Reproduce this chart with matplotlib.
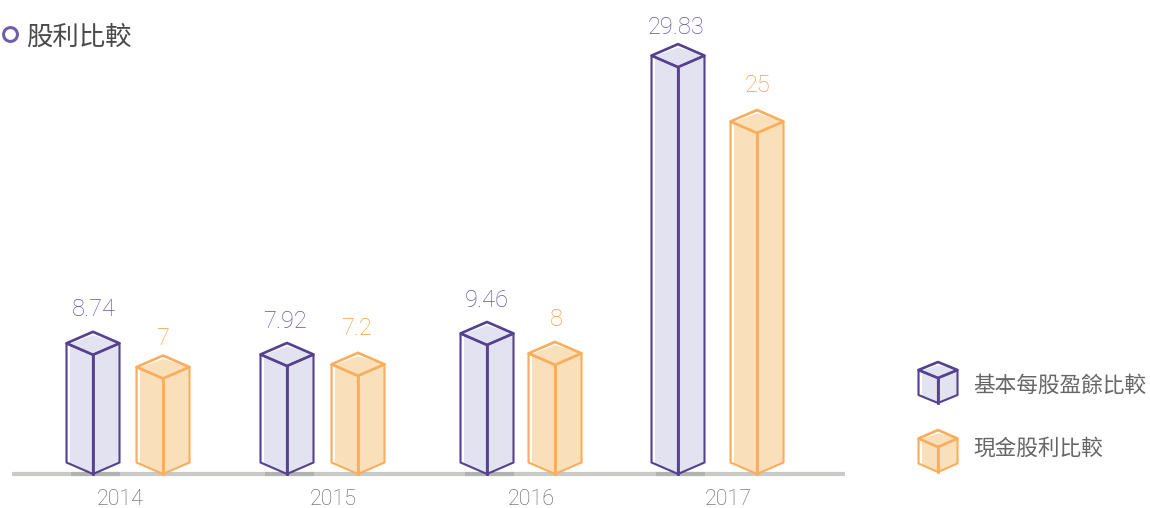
import matplotlib
matplotlib.use('Agg')
import matplotlib.pyplot as plt
from matplotlib.patches import Polygon

plt.rcParams['font.family'] = ['Roboto', 'Noto Sans CJK TC', 'DejaVu Sans']

years = ['2014', '2015', '2016', '2017']
eps = [8.74, 7.92, 9.46, 29.83]
dividend = [7, 7.2, 8, 25]
eps_labels = ['8.74', '7.92', '9.46', '29.83']
dividend_labels = ['7', '7.2', '8', '25']

title = '股利比較'
legend_names = ['基本每股盈餘比較', '現金股利比較']

# layout, in pixels of the 1150x508 picture
W, H = 1150, 508
BASE = 474
PX_PER_UNIT = 13.64
year_x = [120, 333, 531, 728]
eps_x = [93, 287, 487, 678]
div_x = [163, 358, 555, 757]
eps_label_gap = [22, 21, 21, 17]
div_label_gap = [17, 24, 22, 25]
eps_label_dx = [1, -2, 0, -2]
div_label_dx = [0, -1, 1, 0]

PURPLE = ('#54418f', '#e3e2f0', '#6654a3')
ORANGE = ('#f9ae5d', '#fae0ba', '#f59c3c')


def v(px):
    # pixels to data units on the y axis
    return px / PX_PER_UNIT


def cube(ax, cx, top, bottom, hw, depth, colors, zorder=3):
    # top and bottom are y values of the front edge
    edge, fill, _ = colors
    d = v(depth)
    left = [(cx - hw, top + d), (cx, top), (cx, bottom), (cx - hw, bottom + d)]
    right = [(cx, top), (cx + hw, top + d), (cx + hw, bottom + d), (cx, bottom)]
    lid = [(cx - hw, top + d), (cx, top + 2 * d), (cx + hw, top + d), (cx, top)]
    for pts in (left, right, lid):
        ax.add_patch(Polygon(pts, closed=True, facecolor=fill, edgecolor='none',
                             zorder=zorder, clip_on=False))
    # white highlights on the left face and under the back of the lid
    ax.add_patch(Polygon([(cx - hw + 1, top + d), (cx - hw + 3.5, top + d - v(1)),
                          (cx - hw + 3.5, bottom + d - v(1)), (cx - hw + 1, bottom + d)],
                         closed=True, facecolor='white', edgecolor='none',
                         zorder=zorder, clip_on=False))
    ax.plot([cx - hw + 5, cx, cx + hw - 10],
            [top + d + v(1), top + 2 * d - v(2.5), top + d + v(4)],
            color='white', lw=1.2, zorder=zorder, clip_on=False)
    # outer edges are thinner than the lid and the front edge
    for pts in (left, right):
        ax.add_patch(Polygon(pts, closed=True, facecolor='none', edgecolor=edge,
                             lw=1.5, joinstyle='round', zorder=zorder + 1, clip_on=False))
    ax.add_patch(Polygon(lid, closed=True, facecolor='none', edgecolor=edge,
                         lw=1.9, joinstyle='round', zorder=zorder + 1, clip_on=False))
    ax.plot([cx, cx], [top, bottom], color=edge, lw=2, zorder=zorder + 1, clip_on=False)


fig = plt.figure(figsize=(W / 100, H / 100), dpi=100)
ax = fig.add_axes([0, (H - BASE) / H, 1, BASE / H])
ax.set_xlim(0, W)
ax.set_ylim(0, v(BASE))
for s in ax.spines.values():
    s.set_visible(False)
ax.set_yticks([])
ax.set_xticks(year_x)
ax.set_xticklabels(years, fontsize=15.5, color='#5c5c5c', fontweight='light')
ax.tick_params(axis='x', length=0, pad=11)

ax.hlines(0, 12, 845, color='#c9cac8', lw=3, zorder=1, clip_on=False)

for i in range(len(years)):
    # darker patch of the base line under each purple bar
    ax.hlines(0, eps_x[i] - 22, eps_x[i] + 27, color='#b1b3b1', lw=3, zorder=2, clip_on=False)
    cube(ax, eps_x[i], eps[i], 0, 26.5, 11.5, PURPLE)
    cube(ax, div_x[i], dividend[i], 0, 26.5, 11.5, ORANGE)
    ax.text(eps_x[i] + eps_label_dx[i], eps[i] + v(23 + eps_label_gap[i]), eps_labels[i],
            color=PURPLE[2], fontsize=17, fontweight='light', ha='center', va='center')
    ax.text(div_x[i] + div_label_dx[i], dividend[i] + v(23 + div_label_gap[i]), dividend_labels[i],
            color=ORANGE[2], fontsize=17, fontweight='light', ha='center', va='center')

# title with its ring marker
ax.plot([10], [v(BASE - 34)], 'o', ms=10, mfc='white', mec='#6f5fab', mew=2.2, clip_on=False)
ax.text(26, v(BASE - 38), title, fontsize=19, color='#4a4a4a', ha='left', va='center')

# legend drawn by hand so the swatches are small cubes
cube(ax, 938, v(BASE - 378), v(BASE - 403), 19.5, 8, PURPLE)
ax.text(973, v(BASE - 386), legend_names[0], fontsize=15.6, color='#666666', ha='left', va='center')
cube(ax, 938, v(BASE - 447), v(BASE - 472), 19.5, 8.5, ORANGE)
ax.text(973, v(BASE - 449), legend_names[1], fontsize=15.6, color='#666666', ha='left', va='center')

fig.savefig('out.png', dpi=100)
